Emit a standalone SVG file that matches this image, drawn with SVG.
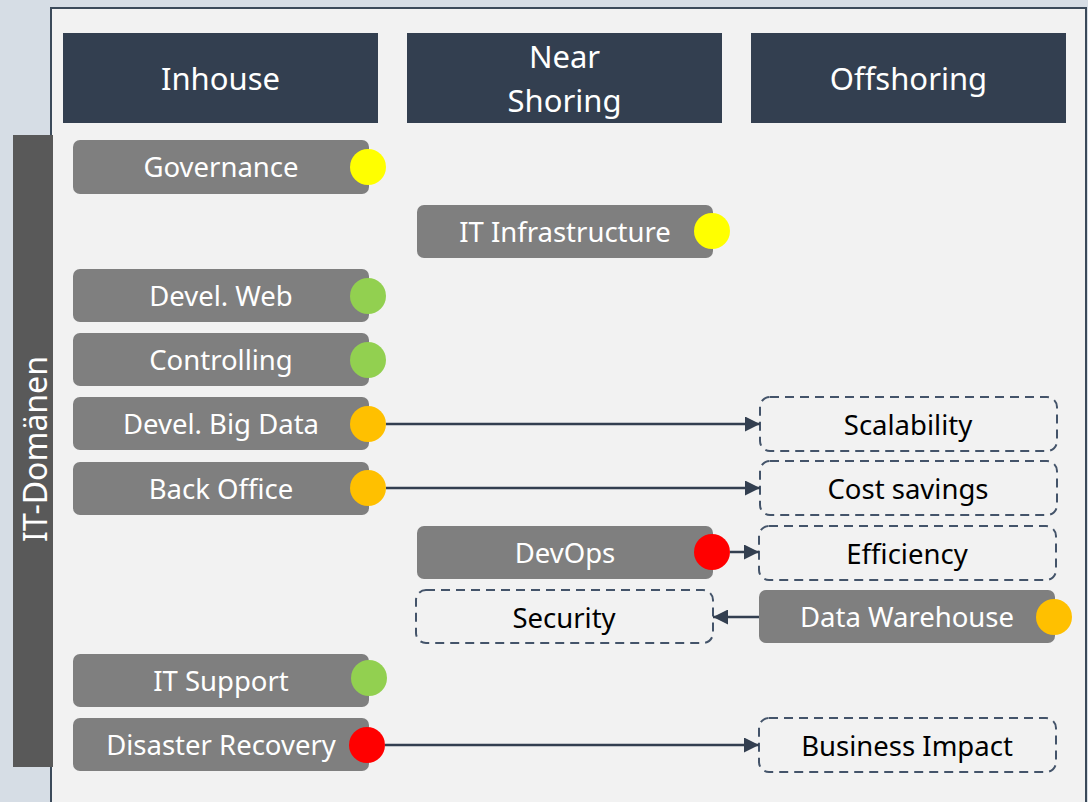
<svg xmlns="http://www.w3.org/2000/svg" width="1088" height="802" viewBox="0 0 1088 802">
<defs>
<style>
.hdr{fill:#333f50}
.hdrt{fill:#ffffff;font-family:"Noto Sans","Open Sans",sans-serif;font-size:31px;text-anchor:middle}
.node{fill:#7f7f7f}
.nt{fill:#ffffff;font-family:"Noto Sans","Open Sans",sans-serif;font-size:27.5px;text-anchor:middle}
.dash{fill:#f2f2f2;stroke:#44546a;stroke-width:2;stroke-dasharray:9,6}
.dt{fill:#000000;font-family:"Noto Sans","Open Sans",sans-serif;font-size:27.5px;text-anchor:middle}
.conn{stroke:#333f50;stroke-width:2.5;fill:none}
</style>
<marker id="ah" viewBox="0 0 10 10" refX="10" refY="5" markerWidth="6" markerHeight="6" orient="auto" markerUnits="strokeWidth">
<path d="M0,0 L10,5 L0,10 z" fill="#333f50"/>
</marker>
</defs>
<rect x="0" y="0" width="1088" height="802" fill="#d6dde5"/>
<rect x="51" y="8" width="1035" height="810" fill="#f2f2f2" stroke="#3b4a5a" stroke-width="2"/>
<g id="sidebar">
<rect x="13" y="135" width="40" height="632" fill="#595959"/>
<text transform="translate(47,449) rotate(-90)" fill="#ffffff" font-family="Noto Sans, Open Sans, sans-serif" font-size="32" text-anchor="middle">IT-Domänen</text>
</g>
<g id="hdr-inhouse"><rect class="hdr" x="63" y="33" width="315" height="90"/><text class="hdrt" x="220.5" y="90">Inhouse</text></g>
<g id="hdr-nearshoring"><rect class="hdr" x="407" y="33" width="315" height="90"/><text class="hdrt" x="564.5" y="68">Near</text><text class="hdrt" x="564.5" y="112">Shoring</text></g>
<g id="hdr-offshoring"><rect class="hdr" x="751" y="33" width="315" height="90"/><text class="hdrt" x="908.5" y="90">Offshoring</text></g>

<g id="governance"><rect class="node" x="73" y="140" width="296" height="54" rx="7"/><text class="nt" x="221" y="177">Governance</text><circle cx="368" cy="167" r="18" fill="#ffff00"/></g>
<g id="it-infrastructure"><rect class="node" x="417" y="205" width="296" height="53" rx="7"/><text class="nt" x="565" y="242">IT Infrastructure</text><circle cx="712" cy="231" r="18" fill="#ffff00"/></g>
<g id="devel-web"><rect class="node" x="73" y="269" width="296" height="53" rx="7"/><text class="nt" x="221" y="306">Devel. Web</text><circle cx="368" cy="296" r="18" fill="#92d050"/></g>
<g id="controlling"><rect class="node" x="73" y="333" width="296" height="53" rx="7"/><text class="nt" x="221" y="370">Controlling</text><circle cx="368" cy="360" r="18" fill="#92d050"/></g>
<g id="devel-big-data"><rect class="node" x="73" y="397" width="296" height="53" rx="7"/><text class="nt" x="221" y="434">Devel. Big Data</text><circle cx="368" cy="424" r="18" fill="#ffc000"/></g>
<g id="back-office"><rect class="node" x="73" y="462" width="296" height="53" rx="7"/><text class="nt" x="221" y="499">Back Office</text><circle cx="368" cy="488" r="18" fill="#ffc000"/></g>
<g id="devops"><rect class="node" x="417" y="526" width="296" height="53" rx="7"/><text class="nt" x="565" y="563">DevOps</text><circle cx="712" cy="552" r="18" fill="#ff0000"/></g>
<g id="data-warehouse"><rect class="node" x="759" y="590" width="296" height="53" rx="7"/><text class="nt" x="907" y="627">Data Warehouse</text><circle cx="1054" cy="617" r="18" fill="#ffc000"/></g>
<g id="it-support"><rect class="node" x="73" y="654" width="296" height="53" rx="7"/><text class="nt" x="221" y="691">IT Support</text><circle cx="369" cy="678" r="18" fill="#92d050"/></g>
<g id="disaster-recovery"><rect class="node" x="73" y="718" width="296" height="53" rx="7"/><text class="nt" x="221" y="755">Disaster Recovery</text><circle cx="367" cy="745" r="18" fill="#ff0000"/></g>

<g id="scalability"><rect class="dash" x="760" y="397" width="297" height="54" rx="10"/><text class="dt" x="908" y="435">Scalability</text></g>
<g id="cost-savings"><rect class="dash" x="760" y="461" width="297" height="54" rx="10"/><text class="dt" x="908" y="499">Cost savings</text></g>
<g id="efficiency"><rect class="dash" x="759" y="526" width="297" height="54" rx="10"/><text class="dt" x="907" y="564">Efficiency</text></g>
<g id="security"><rect class="dash" x="416" y="590" width="297" height="53" rx="10"/><text class="dt" x="564" y="628">Security</text></g>
<g id="business-impact"><rect class="dash" x="759" y="718" width="297" height="54" rx="10"/><text class="dt" x="907" y="756">Business Impact</text></g>

<g id="connectors">
<line class="conn" x1="386" y1="424" x2="760" y2="424" marker-end="url(#ah)"/>
<line class="conn" x1="386" y1="488" x2="760" y2="488" marker-end="url(#ah)"/>
<line class="conn" x1="730" y1="552" x2="759" y2="552" marker-end="url(#ah)"/>
<line class="conn" x1="759" y1="617" x2="713" y2="617" marker-end="url(#ah)"/>
<line class="conn" x1="385" y1="745" x2="759" y2="745" marker-end="url(#ah)"/>
</g>
</svg>
